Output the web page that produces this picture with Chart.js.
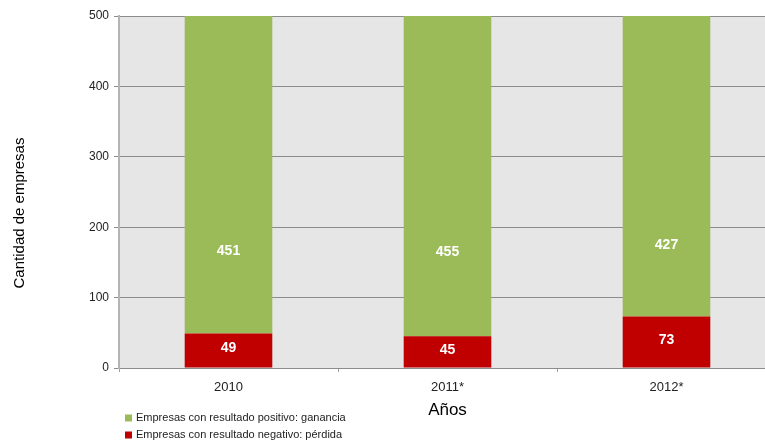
<!DOCTYPE html>
<html>
<head>
<meta charset="utf-8">
<script src="https://cdn.jsdelivr.net/npm/chart.js@4"></script>
<style>
  html, body { margin: 0; padding: 0; background: #fff; overflow: hidden; }
  #wrap { width: 780px; height: 443px; }
</style>
</head>
<body>
<div id="wrap"><canvas id="chart" width="780" height="443"></canvas></div>
<script>
const years = ["2010", "2011*", "2012*"];
const perdida = [49, 45, 73];
const ganancia = [451, 455, 427];
const seriesNames = [
    "Empresas con resultado positivo: ganancia",
    "Empresas con resultado negativo: pérdida"
];
const yTicks = [0, 100, 200, 300, 400, 500];

const FONT = "'Liberation Sans', Arial, sans-serif";
const GREEN = "#9BBB59";
const RED = "#C00000";

// gray plot area behind grid
const plotBg = {
    id: "plotBg",
    beforeDraw(chart) {
        const a = chart.chartArea;
        const ctx = chart.ctx;
        ctx.save();
        ctx.fillStyle = "#e6e6e6";
        ctx.fillRect(a.left, a.top, a.right - a.left, a.bottom - a.top);
        ctx.restore();
    }
};

// white numbers inside the segments
const barLabels = {
    id: "barLabels",
    afterDatasetsDraw(chart) {
        const ctx = chart.ctx;
        const y = chart.scales.y;
        ctx.save();
        ctx.font = "bold 14px " + FONT;
        ctx.fillStyle = "#fff";
        ctx.textAlign = "center";
        ctx.textBaseline = "middle";
        chart.data.datasets.forEach((ds, i) => {
            chart.getDatasetMeta(i).data.forEach((el, j) => {
                let cy;
                if (i === 0) {
                    cy = (el.y + el.base) / 2 - 2;
                } else {
                    // label sits low in the (clipped) green column
                    cy = 0.35 * el.base + 0.65 * y.getPixelForValue(230);
                }
                ctx.fillText(String(ds.data[j]), el.x, cy);
            });
        });
        ctx.restore();
    }
};

// y title and legend drawn by hand
const extras = {
    id: "extras",
    afterDraw(chart) {
        const ctx = chart.ctx;
        ctx.save();
        ctx.fillStyle = "#000";
        ctx.font = "15px " + FONT;
        ctx.textAlign = "center";
        ctx.textBaseline = "middle";
        ctx.translate(20, 213);
        ctx.rotate(-Math.PI / 2);
        ctx.fillText("Cantidad de empresas", 0, 0);
        ctx.restore();

        ctx.save();
        ctx.font = "11px " + FONT;
        ctx.textBaseline = "middle";
        ctx.textAlign = "left";
        const order = [1, 0];
        order.forEach((dsIndex, k) => {
            const ds = chart.data.datasets[dsIndex];
            const cy = 418 + k * 17;
            ctx.fillStyle = ds.backgroundColor;
            ctx.fillRect(125, cy - 3.5, 7, 7);
            ctx.fillStyle = "#222";
            ctx.fillText(ds.label, 136, cy);
        });
        ctx.restore();
    }
};

new Chart(document.getElementById("chart"), {
    type: "bar",
    data: {
        labels: years,
        datasets: [
            {
                label: seriesNames[1],
                data: perdida,
                backgroundColor: RED,
                barPercentage: 0.4,
                categoryPercentage: 1
            },
            {
                label: seriesNames[0],
                data: ganancia,
                backgroundColor: GREEN,
                barPercentage: 0.4,
                categoryPercentage: 1
            }
        ]
    },
    options: {
        responsive: false,
        animation: false,
        layout: { padding: { left: 0, right: 4, top: 16, bottom: 0 } },
        plugins: {
            legend: { display: false },
            tooltip: { enabled: false }
        },
        scales: {
            x: {
                stacked: true,
                afterFit(scale) { scale.height = 75; },
                grid: {
                    offset: true,
                    drawOnChartArea: false,
                    drawTicks: true,
                    tickLength: 4,
                    color: "#a0a0a0"
                },
                border: { color: "#8c8c8c", width: 1 },
                ticks: {
                    font: { family: FONT, size: 13 },
                    color: "#222",
                    padding: 8
                },
                title: {
                    display: true,
                    text: "Años",
                    font: { family: FONT, size: 17 },
                    color: "#000",
                    padding: { top: 0, bottom: 22 }
                }
            },
            y: {
                stacked: true,
                min: 0,
                max: 500,
                afterFit(scale) { scale.width = 119; },
                afterBuildTicks(scale) {
                    scale.ticks = yTicks.map(v => ({ value: v }));
                },
                grid: {
                    color: "#8c8c8c",
                    lineWidth: 1,
                    drawTicks: true,
                    tickLength: 5
                },
                border: { color: "#b4b4b4", width: 2 },
                ticks: {
                    font: { family: FONT, size: 12 },
                    color: "#222",
                    padding: 5
                }
            }
        }
    },
    plugins: [plotBg, barLabels, extras]
});
</script>
</body>
</html>
